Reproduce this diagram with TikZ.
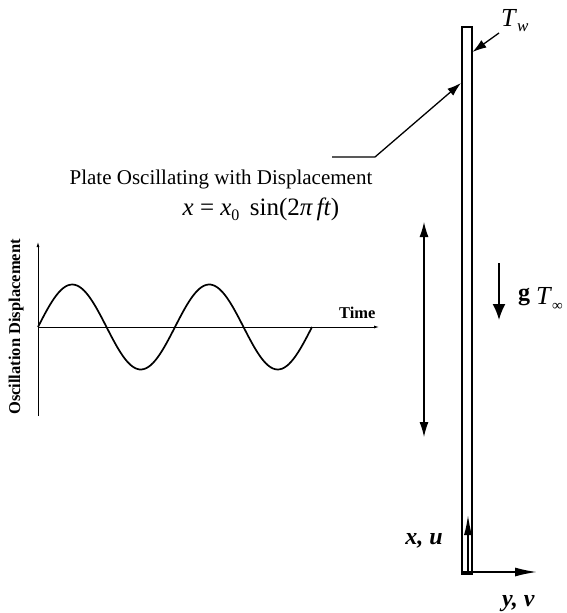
\documentclass[tikz,border=0pt]{standalone}
\usepackage{fontspec}
\setmainfont{Liberation Serif}
\usetikzlibrary{arrows.meta}
\begin{document}
\begin{tikzpicture}[x=1pt,y=-1pt,
  plateline/.style={line width=1.3pt},
  bigarrow/.style={line width=1.8pt,-{Latex[length=16pt,width=13pt]}},
  slimarrow/.style={line width=1.3pt,-{Latex[length=14pt,width=9pt]}},
  axisarrow/.style={line width=0.8pt,-{Latex[length=5pt,width=3pt]}},
  lbl/.style={inner sep=0pt,font=\fontsize{21}{25}\selectfont},
  blbl/.style={inner sep=0pt,font=\fontsize{16.5}{19}\selectfont\bfseries},
  bilbl/.style={inner sep=0pt,font=\fontsize{24}{28}\selectfont\bfseries\itshape}]
\useasboundingbox (0,0) rectangle (566,613);
% plate
\coordinate (ptl) at (462,27);
\coordinate (pbr) at (472,574);
\draw[plateline] (ptl) rectangle (pbr);
% labels on plate
\node[inner sep=0pt,font=\fontsize{26}{30}\selectfont,anchor=base west] (tw) at (501,27) {\textit{T}\raisebox{-5pt}{\fontsize{17}{17}\selectfont\textit{w}}};
\coordinate (twtail) at (499,33);
\coordinate (twtip) at (472.5,52);
\draw[slimarrow] (twtail) -- (twtip);
% leader line
\coordinate (ld0) at (332,157);
\coordinate (ld1) at (375,157);
\coordinate (ldtip) at (461,83);
\draw[slimarrow] (ld0) -- (ld1) -- (ldtip);
\node[lbl,anchor=base] (ptext) at (221,184) {Plate Oscillating with Displacement};
\node[inner sep=0pt,font=\fontsize{25}{29}\selectfont,anchor=base] (eq) at (261,215) {\textit{x} = \textit{x}\raisebox{-5pt}{\fontsize{16}{16}\selectfont 0}\, sin(2\textit{π\,ft})};
% double arrow
\coordinate (da1) at (424,222);
\coordinate (da2) at (424,437);
\draw[line width=1.2pt,{Latex[length=15pt,width=9pt]}-{Latex[length=15pt,width=9pt]}] (da1) -- (da2);
% gravity
\coordinate (g1) at (499,263);
\coordinate (g2) at (499,320);
\draw[bigarrow] (g1) -- (g2);
\node[inner sep=0pt,font=\fontsize{24}{28}\selectfont\bfseries,anchor=base west] (glbl) at (518,300) {g};
\node[inner sep=0pt,font=\fontsize{26}{30}\selectfont,anchor=base west] (tinf) at (536,304) {\textit{T}\raisebox{-6pt}{\fontsize{15}{15}\selectfont ∞}};
% coordinate arrows
\coordinate (o) at (463,572);
\coordinate (xu) at (468,515);
\coordinate (xubase) at (468,574);
\coordinate (yv) at (537,572);
\draw[line width=1.5pt,-{Latex[length=20pt,width=8pt]}] (xubase) -- (xu);
\draw[line width=1.6pt,-{Latex[length=22pt,width=9pt]}] (o) -- (yv);
\node[bilbl,anchor=base east] (xulbl) at (443,544) {x, u};
\node[bilbl,anchor=base west] (yvlbl) at (502,606) {y, v};
% graph
\coordinate (go) at (38,327);
\coordinate (gytop) at (38,242);
\coordinate (gybot) at (38,416);
\coordinate (gxend) at (379,327);
\draw[axisarrow] (gybot) -- (gytop);
\draw[axisarrow] (go) -- (gxend);
\draw[line width=1.7pt] plot[domain=0:274,samples=120,smooth] ({38+\x},{327-42.5*sin(\x/137*360)});
\node[blbl,anchor=base west] (time) at (339,318) {Time};
\node[blbl,anchor=base,rotate=90] (osc) at (20,327) {Oscillation Displacement};
\end{tikzpicture}
\end{document}
